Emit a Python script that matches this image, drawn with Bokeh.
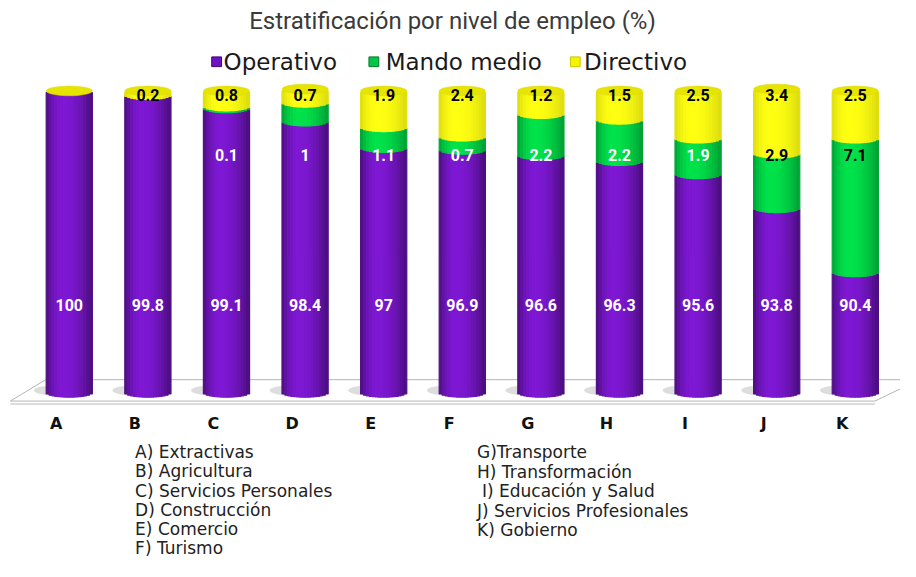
import numpy as np
from bokeh.plotting import figure
from bokeh.models import Range1d
from bokeh.core.properties import value
from bokeh.embed import file_html
from bokeh.resources import INLINE

# ---------------- data ----------------
title = "Estratificación por nivel de empleo (%)"
categories = ["A", "B", "C", "D", "E", "F", "G", "H", "I", "J", "K"]
series_names = ["Operativo", "Mando medio", "Directivo"]
operativo = [100, 99.8, 99.1, 98.4, 97, 96.9, 96.6, 96.3, 95.6, 93.8, 90.4]
mando_medio = [0, 0, 0.1, 1, 1.1, 0.7, 2.2, 2.2, 1.9, 2.9, 7.1]
directivo = [0, 0.2, 0.8, 0.7, 1.9, 2.4, 1.2, 1.5, 2.5, 3.4, 2.5]
sectores_izq = ["A) Extractivas", "B) Agricultura", "C) Servicios Personales",
                "D) Construcción", "E) Comercio", "F) Turismo"]
sectores_der = ["G)Transporte", "H) Transformación", "I) Educación y Salud",
                "J) Servicios Profesionales", "K) Gobierno"]
y_min, y_max = 84, 100

# ---------------- layout helpers (reference pixel -> data) ----------------
W, H = 900, 561
REF_W, REF_H = 916, 577
PXX = 80.0                      # reference px per category
PXY = 310.0 / (y_max - y_min)   # reference px per percentage unit


def xd(rx):
    return (rx - 70) / PXX


def yd(ry):
    return y_max - (ry - 93) / PXY


p = figure(width=W, height=H, output_backend="svg", toolbar_location=None,
           x_range=Range1d(xd(0), xd(REF_W)), y_range=Range1d(yd(REF_H), yd(0)),
           min_border=0)
p.axis.visible = False
p.grid.visible = False
p.outline_line_color = None
p.background_fill_color = "white"
p.border_fill_color = "white"

# ---------------- floor ----------------
p.patch([xd(10), xd(46), xd(935), xd(890)], [yd(412), yd(390), yd(390), yd(412)],
        fill_color="white", line_color="#b5b5b5", line_width=1)
p.line([xd(10), xd(890)], [yd(415), yd(415)], line_color="#d0d0d0", line_width=1.5)

idx = np.arange(len(categories))
HW = 23.5 / PXX          # half width of cylinder
D = 5.0 / PXY            # half height of ellipse

# shadows
p.ellipse(x=idx - 9 / PXX, y=[yd(401)] * len(idx), width=2 * HW * 1.15, height=2.2 * D,
          fill_color="#cfcfcf", fill_alpha=0.7, line_color=None)

# ---------------- cylinders ----------------
base_cols = [((126, 24, 212), 0.58), ((0, 226, 74), 0.70), ((255, 255, 18), 0.86)]


def shade(rgb, u, lo):
    u0 = -0.25
    t = (u - u0) / (1 - u0) if u >= u0 else (u0 - u) / (1 + u0)
    f = 1 - (1 - lo) * t ** 2
    return "#%02x%02x%02x" % tuple(int(round(min(255, c * f))) for c in rgb)


N = 16
ue = np.linspace(-1, 1, N + 1)
uc = (ue[:-1] + ue[1:]) / 2
depth = D * np.sqrt(1 - uc ** 2)

series = [operativo, mando_medio, directivo]
L, R, B, T, C = [], [], [], [], []
for i in idx:
    cum = 0.0
    for s, vals in enumerate(series):
        bot = max(cum, y_min)
        cum += vals[i]
        top = cum
        if top <= bot:
            continue
        rgb, lo = base_cols[s]
        for k in range(N):
            L.append(i + HW * ue[k])
            R.append(i + HW * ue[k + 1])
            B.append(bot - depth[k])
            T.append(top - depth[k])
            C.append(shade(rgb, uc[k], lo))
p.quad(left=L, right=R, bottom=B, top=T, fill_color=C, line_color=C, line_width=1.2)

totals = [a + b + c for a, b, c in zip(operativo, mando_medio, directivo)]
p.ellipse(x=idx, y=totals, width=2 * HW, height=2 * D, fill_color="#e6e400",
          line_color="#d8d600", line_width=0.5)

# ---------------- value labels ----------------
lab_font = value("Roboto")
p.text(x=idx, y=[yd(313)] * len(idx), text=[f"{v:g}" for v in operativo],
       text_font=lab_font, text_font_size="16px", text_font_style="bold",
       text_color="white", text_align="center", text_baseline="middle")

mm_colors = ["white"] * 9 + ["black"] * 2
mi = [i for i in idx if mando_medio[i] > 0]
p.text(x=mi, y=[yd(159)] * len(mi), text=[f"{mando_medio[i]:g}" for i in mi],
       text_font=lab_font, text_font_size="16px", text_font_style="bold",
       text_color=[mm_colors[i] for i in mi], text_align="center", text_baseline="middle")

di = [i for i in idx if directivo[i] > 0]
p.text(x=di, y=[yd(97)] * len(di), text=[f"{directivo[i]:g}" for i in di],
       text_font=lab_font, text_font_size="16px", text_font_style="bold",
       text_color="black", text_align="center", text_baseline="middle")

# ---------------- category labels ----------------
p.text(x=idx, y=[yd(435)] * len(idx), text=categories, x_offset=-13,
       text_font=value("DejaVu Sans"), text_font_size="16px", text_font_style="bold",
       text_color="#111111", text_align="center", text_baseline="middle")

# ---------------- title ----------------
p.text(x=[xd(460)], y=[yd(21)], text=[title], text_font=value("Roboto"),
       text_font_size="24px", text_color="#3a3a3a", text_align="center",
       text_baseline="middle")

# ---------------- legend ----------------
leg_cols = ["#6e12c4", "#00c846", "#f4f400"]
leg_edge = ["#3d0070", "#007a2a", "#c8c800"]
sq_x = [220, 380, 585]
tx_x = [227, 392, 594]
p.rect(x=[xd(v) for v in sq_x], y=[yd(63)] * 3, width=10 / PXX, height=10 / PXY,
       fill_color=leg_cols, line_color=leg_edge, line_width=1)
p.text(x=[xd(v) for v in tx_x], y=[yd(63)] * 3, text=series_names,
       text_font=value("DejaVu Sans"), text_font_size="23px", text_color="#1a1a1a",
       text_align="left", text_baseline="middle")

# ---------------- sector key ----------------
left_y = [464, 484, 504, 524, 544, 563]
right_y = [464, 485, 505, 525, 545]
right_x = [485, 485, 490, 485, 485]
p.text(x=[xd(137)] * len(sectores_izq), y=[yd(v) for v in left_y], text=sectores_izq,
       text_font=value("DejaVu Sans"), text_font_size="17px", text_color="#222222",
       text_align="left", text_baseline="middle")
p.text(x=[xd(v) for v in right_x], y=[yd(v) for v in right_y], text=sectores_der,
       text_font=value("DejaVu Sans"), text_font_size="17px", text_color="#222222",
       text_align="left", text_baseline="middle")

open("out.html", "w").write(file_html(p, INLINE))
